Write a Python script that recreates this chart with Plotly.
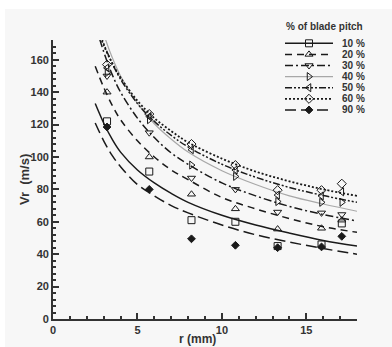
import plotly.graph_objects as go

# Measured radial velocity at each radial station, per blade-pitch position
r_points = [3.2, 5.7, 8.2, 10.8, 13.3, 15.9, 17.1]
vr_10 = [122, 91, 61, 60, 45, 46, 59]
vr_20 = [140, 100, 77, 68, 55.5, 56, 61]
vr_30 = [150, 115, 87, 80, 66, 65.5, 64.5]
vr_40 = [152, 123, 95, 88, 72.5, 72, 72]
vr_50 = [155, 125, 104.5, 92, 76.5, 76, 78.5]
vr_60 = [157, 126.5, 108, 95, 79.5, 79.5, 83.5]
vr_90 = [118.5, 80, 49.5, 45.5, 44, 44.5, 51]

# Trend curves through each data set
r_fit = [2.5, 3, 3.5, 4, 5, 6, 7, 8, 10, 12, 14, 16, 18]
fit_10 = [133, 121, 111, 103, 92, 84, 77.5, 72, 64, 58, 53, 48.5, 45]
fit_20 = [156, 143, 132, 123, 110, 100, 92, 86, 75, 68, 62, 57, 53.5]
fit_30 = [182, 165, 151, 140, 124, 112, 102.5, 95.5, 84, 76, 69.5, 64.5, 60.5]
fit_40 = [194, 176, 161.5, 150, 133, 120.5, 111, 103, 91.5, 83, 76, 71, 66.5]
fit_50 = [185.5, 170, 158, 148, 133, 122, 113.3, 106.2, 95.5, 87.5, 81.2, 76.2, 72]
fit_60 = [183.5, 169, 158, 149, 134.7, 124, 116, 109, 99, 91, 85, 80, 76]
fit_90 = [121, 110, 101, 94, 83, 76, 70, 65.5, 58, 52, 47.5, 43.5, 40]

labels = ["10 %", "20 %", "30 %", "40 %", "50 %", "60 %", "90 %"]
x_ticks = [0, 5, 10, 15]
y_ticks = [0, 20, 40, 60, 80, 100, 120, 140, 160]

INK = "#1a1a1a"
styles = [
    dict(symbol="square-open", dash="solid", color=INK, width=1.5, size=7),
    dict(symbol="triangle-up-open", dash="7px,5px", color=INK, width=1.5, size=7),
    dict(symbol="triangle-down-open", dash="8px,3px,2px,3px", color=INK, width=1.5, size=7),
    dict(symbol="triangle-right-open", dash="solid", color="#a8a8a8", width=1.2, size=7),
    dict(symbol="triangle-left-open", dash="7px,2px,2px,2px,2px,2px", color=INK, width=1.5, size=7),
    dict(symbol="diamond-open", dash="2px,2px", color=INK, width=1.8, size=7),
    dict(symbol="diamond", dash="11px,5px", color=INK, width=1.5, size=6),
]
measured = [vr_10, vr_20, vr_30, vr_40, vr_50, vr_60, vr_90]
fitted = [fit_10, fit_20, fit_30, fit_40, fit_50, fit_60, fit_90]

W, H = 392, 347
ML, MR, MT, MB = 53, 35, 40, 28
PW, PH = W - ML - MR, H - MT - MB


def px_x(px):
    """Page pixel column -> paper x."""
    return (px - ML) / PW


def px_y(py):
    """Page pixel row -> paper y."""
    return (MT + PH - py) / PH


fig = go.Figure()

for lab, st, ys, yf in zip(labels, styles, measured, fitted):
    fig.add_trace(go.Scatter(
        x=r_fit, y=yf, mode="lines", line_shape="spline",
        line=dict(color=st["color"], width=st["width"], dash=st["dash"]),
        showlegend=False, hoverinfo="skip"))
    fig.add_trace(go.Scatter(
        x=r_points, y=ys, mode="markers", name=lab, showlegend=False,
        marker=dict(symbol=st["symbol"], size=st["size"], color=INK,
                    line=dict(color=INK, width=1))))

# Hand-built key in pixel units on an overlay axis pair
KEY_X0, KEY_X1, KEY_TXT = 232, 280, 287
KEY_Y0, KEY_DY = 3.3, 11.1
for i, (lab, st) in enumerate(zip(labels, styles)):
    yk = KEY_Y0 + i * KEY_DY
    fig.add_trace(go.Scatter(
        x=[KEY_X0, KEY_X1], y=[yk, yk], mode="lines", xaxis="x2", yaxis="y2",
        line=dict(color=st["color"], width=st["width"], dash=st["dash"]),
        showlegend=False, hoverinfo="skip"))
    fig.add_trace(go.Scatter(
        x=[(KEY_X0 + KEY_X1) / 2], y=[yk], mode="markers", xaxis="x2", yaxis="y2",
        marker=dict(symbol=st["symbol"], size=st["size"], color=INK,
                    line=dict(color=INK, width=1)),
        showlegend=False, hoverinfo="skip", cliponaxis=False))
    fig.add_annotation(x=KEY_TXT, y=yk, xref="x2", yref="y2", text=lab,
                       showarrow=False, xanchor="left", yanchor="middle",
                       font=dict(size=10, color="#333", family="Liberation Sans", weight="bold"))

fig.add_annotation(x=px_x(324), y=px_y(27), xref="paper", yref="paper",
                   text="% of blade pitch", showarrow=False,
                   xanchor="center", yanchor="middle",
                   font=dict(size=10, color="#333", family="Liberation Sans", weight="bold"))

# Axis titles
fig.add_annotation(x=px_x(24), y=px_y(180), xref="paper", yref="paper",
                   text="Vr  (m/s)", textangle=-90, showarrow=False,
                   xanchor="center", yanchor="middle",
                   font=dict(size=13, color="#333", family="Liberation Sans", weight="bold"))
fig.add_annotation(x=px_x(197), y=px_y(338.5), xref="paper", yref="paper",
                   text="r (mm)", showarrow=False,
                   xanchor="center", yanchor="middle",
                   font=dict(size=12, color="#333", family="Liberation Sans", weight="bold"))

# Light panel behind everything
fig.add_shape(type="rect", xref="paper", yref="paper", layer="below",
              x0=px_x(5), x1=px_x(W + 2), y0=px_y(H + 2), y1=px_y(9),
              fillcolor="#f7f7f7", line=dict(width=0))

tickfont = dict(size=11, color="#333", family="Liberation Sans", weight="bold")
fig.update_layout(
    width=W, height=H,
    margin=dict(l=ML, r=MR, t=MT, b=MB),
    paper_bgcolor="white", plot_bgcolor="#f7f7f7",
    xaxis=dict(range=[0, 18], tickvals=x_ticks, ticks="inside", ticklen=6, tickwidth=1.5,
               tickcolor="#333", showline=True, linecolor="#333", linewidth=1.8,
               showgrid=False, zeroline=False, tickfont=tickfont, ticklabelstandoff=0,
               minor=dict(dtick=1, ticks="inside", ticklen=3, tickcolor="#333", showgrid=False)),
    yaxis=dict(range=[0, 172.2], tickvals=y_ticks, ticks="inside", ticklen=6, tickwidth=1.5,
               tickcolor="#333", showline=True, linecolor="#333", linewidth=1.8,
               showgrid=False, zeroline=False, tickfont=tickfont,
               minor=dict(dtick=4, ticks="inside", ticklen=3, tickcolor="#333", showgrid=False)),
    xaxis2=dict(range=[0, PW], overlaying="x", visible=False, fixedrange=True),
    yaxis2=dict(range=[PH, 0], overlaying="y", visible=False, fixedrange=True),
)

fig.write_html("out.html")
